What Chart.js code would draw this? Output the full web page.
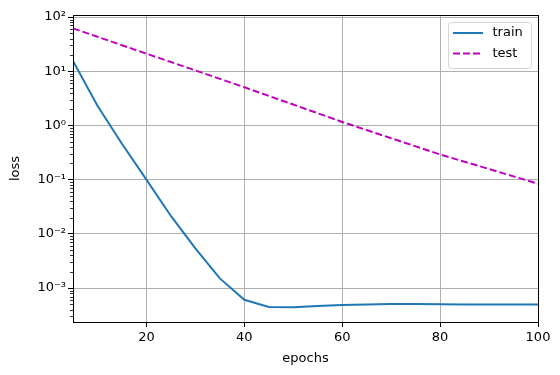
<!DOCTYPE html>
<html>
<head>
<meta charset="utf-8">
<script src="https://cdn.jsdelivr.net/npm/chart.js@4"></script>
<style>
  html, body { margin: 0; padding: 0; background: #fff; }
  #wrap { width: 560px; height: 375px; }
</style>
</head>
<body>
<div id="wrap"><canvas id="chart"></canvas></div>
<script>
// ── Data ──────────────────────────────────────────────────────────────
const epochs    = [5, 10, 15, 20, 25, 30, 35, 40, 45, 50, 55, 60, 65, 70, 75, 80, 85, 90, 95, 100];
const trainLoss = [15.5, 2.3, 0.46, 0.1, 0.0214, 0.0054, 0.00151, 0.00061, 0.00045, 0.000445,
                   0.00047, 0.00049, 0.0005, 0.00051, 0.00051, 0.000505, 0.0005, 0.0005, 0.0005, 0.0005];
const testLoss  = [61.7, 43.2, 30.2, 21.1, 14.8, 10.35, 7.24, 5.07, 3.51, 2.43,
                   1.68, 1.16, 0.822, 0.582, 0.412, 0.292, 0.214, 0.157, 0.115, 0.084];

const xTicks      = [20, 40, 60, 80, 100];
const yMajorTicks = [1e-3, 1e-2, 1e-1, 1, 10, 100];
const yTickLabels = ['10⁻³', '10⁻²', '10⁻¹', '10⁰', '10¹', '10²'];

const X_MIN = 5, X_MAX = 100;
const Y_MIN = 2.37e-4, Y_MAX = 109;

const FONT = { family: '"DejaVu Sans", sans-serif', size: 13 };
const GRID = '#b0b0b0';

// ── Helpers ───────────────────────────────────────────────────────────

const isMajorY = v => yMajorTicks.some(m => Math.abs(v / m - 1) < 1e-9);

function logTicks() {
    const out = [];
    for (let e = -4; e <= 2; e++) {
        for (let s = 1; s <= 9; s++) {
            const v = s * Math.pow(10, e);
            if (v >= Y_MIN && v <= Y_MAX) out.push({ value: v, major: s === 1 });
        }
    }
    return out;
}

// frame, minor y ticks and the legend box drawn on top, matplotlib style
const decorations = {
    id: 'decorations',
    afterDraw(chart) {
        const { ctx, chartArea: ca } = chart;
        const y = chart.scales.y;
        ctx.save();

        // minor ticks
        ctx.strokeStyle = '#000';
        ctx.lineWidth = 0.8;
        y.ticks.forEach(t => {
            if (isMajorY(t.value)) return;
            const py = Math.round(y.getPixelForValue(t.value)) + 0.5;
            ctx.beginPath();
            ctx.moveTo(ca.left - 3, py);
            ctx.lineTo(ca.left, py);
            ctx.stroke();
        });

        // spines
        ctx.lineWidth = 1;
        ctx.strokeRect(Math.round(ca.left) + 0.5, Math.round(ca.top) + 0.5,
                       Math.round(ca.right - ca.left), Math.round(ca.bottom - ca.top));

        // legend
        const bw = 83, bh = 46;
        const bx = ca.right - 7 - bw, by = ca.top + 7;
        ctx.beginPath();
        ctx.roundRect(bx + 0.5, by + 0.5, bw, bh, 3);
        ctx.fillStyle = 'rgba(255,255,255,0.8)';
        ctx.fill();
        ctx.strokeStyle = 'rgba(204,204,204,0.8)';
        ctx.lineWidth = 1;
        ctx.stroke();

        ctx.font = `${FONT.size}px ${FONT.family}`;
        ctx.textBaseline = 'middle';
        ctx.textAlign = 'left';
        chart.data.datasets.forEach((ds, i) => {
            const ry = by + 11 + i * 20.6;
            ctx.beginPath();
            ctx.strokeStyle = ds.borderColor;
            ctx.lineWidth = ds.borderWidth;
            ctx.setLineDash(ds.borderDash || []);
            ctx.moveTo(bx + 5, ry);
            ctx.lineTo(bx + 35, ry);
            ctx.stroke();
            ctx.setLineDash([]);
            ctx.fillStyle = '#000';
            ctx.fillText(ds.label, bx + 44.5, ry);
        });
        ctx.restore();
    },
};

// ── Chart ─────────────────────────────────────────────────────────────

new Chart(document.getElementById('chart'), {
    type: 'line',
    data: {
        datasets: [
            {
                label:       'train',
                data:        epochs.map((e, i) => ({ x: e, y: trainLoss[i] })),
                borderColor: '#1f77b4',
                borderWidth: 2,
                pointRadius: 0,
                tension:     0,
                fill:        false,
            },
            {
                label:       'test',
                data:        epochs.map((e, i) => ({ x: e, y: testLoss[i] })),
                borderColor: '#bf00bf',
                borderWidth: 2,
                borderDash:  [7, 3],
                pointRadius: 0,
                tension:     0,
                fill:        false,
            },
        ],
    },
    options: {
        responsive:          true,
        maintainAspectRatio: false,
        animation:           false,
        devicePixelRatio:    1,
        layout: { padding: { top: 15, right: 22, left: 0, bottom: 0 } },
        plugins: {
            legend:  { display: false },
            tooltip: { enabled: false },
        },
        scales: {
            x: {
                type: 'linear',
                min:  X_MIN,
                max:  X_MAX,
                afterBuildTicks: s => { s.ticks = xTicks.map(v => ({ value: v })); },
                afterFit: s => { s.height = 53; },
                border: { display: false },
                grid: {
                    color:      GRID,
                    lineWidth:  1,
                    tickColor:  '#000',
                    tickLength: 5,
                },
                ticks: {
                    color:       '#000',
                    font:        FONT,
                    padding:     3,
                    maxRotation: 0,
                    autoSkip:    false,
                    callback:    v => String(v),
                },
                title: {
                    display: true,
                    text:    'epochs',
                    color:   '#000',
                    font:    FONT,
                    padding: { top: 0, bottom: 9 },
                },
            },
            y: {
                type: 'logarithmic',
                min:  Y_MIN,
                max:  Y_MAX,
                afterBuildTicks: s => { s.ticks = logTicks(); },
                afterFit: s => { s.width = 73; },
                border: { display: false },
                grid: {
                    color:      c => (c.tick && isMajorY(c.tick.value)) ? GRID : 'rgba(0,0,0,0)',
                    tickColor:  c => (c.tick && isMajorY(c.tick.value)) ? '#000' : 'rgba(0,0,0,0)',
                    lineWidth:  1,
                    tickLength: 5,
                },
                ticks: {
                    color:    '#000',
                    font:     FONT,
                    padding:  2,
                    autoSkip: false,
                    callback: v => {
                        const i = yMajorTicks.findIndex(m => Math.abs(v / m - 1) < 1e-9);
                        return i >= 0 ? yTickLabels[i] : '';
                    },
                },
                title: {
                    display: true,
                    text:    'loss',
                    color:   '#000',
                    font:    FONT,
                    padding: { top: 8, bottom: 0 },
                },
            },
        },
    },
    plugins: [decorations],
});
</script>
</body>
</html>
